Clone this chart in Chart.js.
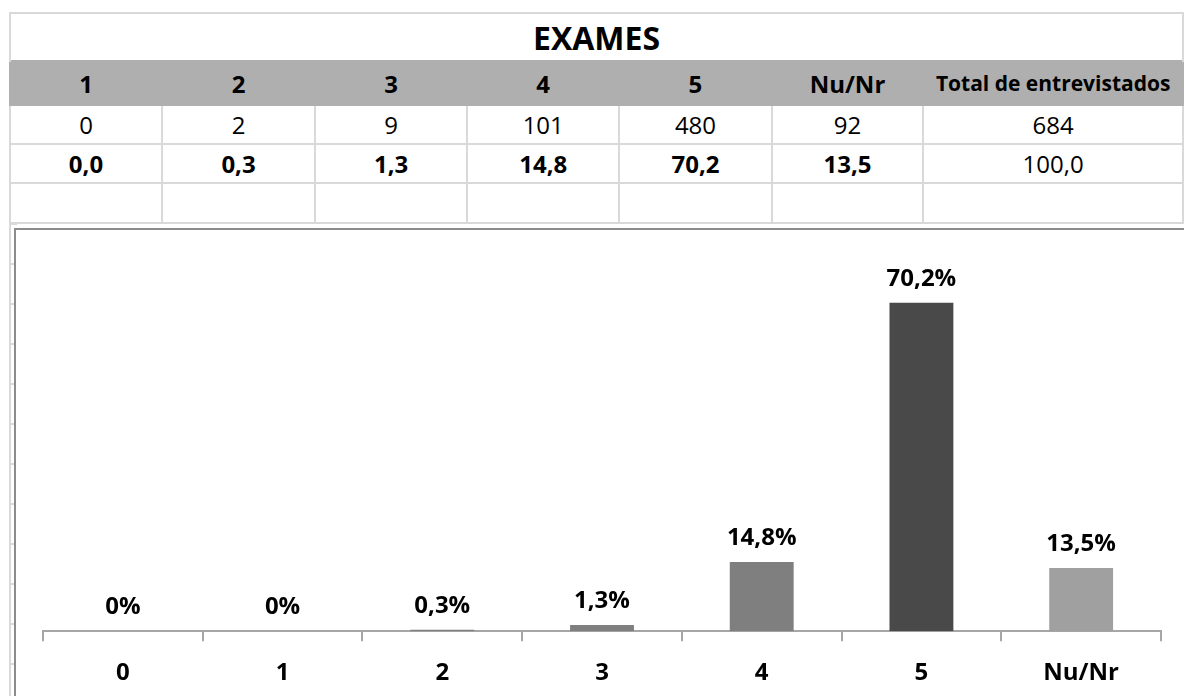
<!DOCTYPE html>
<html>
<head>
<meta charset="utf-8">
<script src="https://cdn.jsdelivr.net/npm/chart.js@4.4.1/dist/chart.umd.min.js"></script>
<style>
  html, body { margin: 0; padding: 0; background: #fff; }
  body { width: 1184px; height: 696px; overflow: hidden; position: relative; font-family: 'Open Sans', sans-serif; }
  #sheet { position: absolute; left: 9px; top: 12px; border-collapse: collapse; table-layout: fixed; }
  #sheet td { border: 2px solid #d9d9d9; padding: 0; text-align: center; color: #000; font-size: 24px; white-space: nowrap; overflow: hidden; }
  #sheet tr.title td { height: 46px; font-weight: bold; font-size: 32px; border-bottom: none; }
  #sheet tr.head td { height: 42px; background: #afafaf; border-color: #afafaf; font-weight: bold; }
  #sheet tr.head td.total { font-size: 21px; }
  #sheet tr.counts td { height: 37px; }
  #sheet tr.pcts td { height: 37px; font-weight: bold; }
  #sheet tr.pcts td.total { font-weight: normal; }
  #sheet tr.blank td { height: 38px; }
  #rowstubs { position: absolute; left: 9px; top: 223px; width: 6px; height: 480px; border-left: 2px solid #d9d9d9;
    background: repeating-linear-gradient(to bottom, #d9d9d9 0px, #d9d9d9 2px, transparent 2px, transparent 40px); }
  #chartBox { position: absolute; left: 14px; top: 228px; width: 1190px; height: 480px; border: 2px solid #8c8c8c; background: #fff; }
</style>
</head>
<body>
<table id="sheet"></table>
<div id="rowstubs"></div>
<div id="chartBox"><canvas id="mainChart" width="1190" height="480"></canvas></div>
<script>
const categories = ['0', '1', '2', '3', '4', '5', 'Nu/Nr'];
const percentages = [0, 0, 0.3, 1.3, 14.8, 70.2, 13.5];
const barColors = ['#7f7f7f', '#7f7f7f', '#7f7f7f', '#7f7f7f', '#7f7f7f', '#494949', '#a0a0a0'];

const tableTitle = 'EXAMES';
const tableHeaders = ['1', '2', '3', '4', '5', 'Nu/Nr', 'Total de entrevistados'];
const tableCounts = ['0', '2', '9', '101', '480', '92', '684'];
const tablePercents = ['0,0', '0,3', '1,3', '14,8', '70,2', '13,5', '100,0'];

document.addEventListener('DOMContentLoaded', function () {
  // spreadsheet part above the chart
  const colWidths = [154, 155, 154, 154, 154, 153, 260];
  const sheet = document.getElementById('sheet');
  let html = '<colgroup>' + colWidths.map((w) => `<col style="width:${w}px">`).join('') + '</colgroup>';
  html += `<tr class="title"><td colspan="7">${tableTitle}</td></tr>`;
  const row = (cls, vals) => `<tr class="${cls}">` + vals.map((v, i) =>
    `<td${i === vals.length - 1 ? ' class="total"' : ''}>${v}</td>`).join('') + '</tr>';
  html += row('head', tableHeaders);
  html += row('counts', tableCounts);
  html += row('pcts', tablePercents);
  html += row('blank', tableHeaders.map(() => ''));
  sheet.innerHTML = html;

  const fmt = (v) => (v === 0 ? '0%' : v.toFixed(1).replace('.', ',') + '%');

  const valueLabels = {
    id: 'valueLabels',
    afterDatasetsDraw(chart) {
      const c = chart.ctx;
      const meta = chart.getDatasetMeta(0);
      c.save();
      c.font = 'bold 24px "Open Sans"';
      c.fillStyle = '#000';
      c.textAlign = 'center';
      c.textBaseline = 'alphabetic';
      meta.data.forEach((bar, i) => {
        c.fillText(fmt(percentages[i]), bar.x, bar.y - 17);
      });
      c.restore();
    },
  };

  new Chart(document.getElementById('mainChart'), {
    type: 'bar',
    data: {
      labels: categories,
      datasets: [{
        data: percentages,
        backgroundColor: barColors,
        barPercentage: 0.4,
        categoryPercentage: 1,
      }],
    },
    options: {
      responsive: false,
      animation: false,
      layout: { padding: { left: 27, right: 45, top: 27, bottom: 4 } },
      plugins: { legend: { display: false }, tooltip: { enabled: false } },
      scales: {
        x: {
          grid: { drawOnChartArea: false, drawTicks: true, tickLength: 10, color: '#a6a6a6', lineWidth: 2 },
          border: { color: '#a6a6a6', width: 2 },
          ticks: { color: '#000', font: { family: 'Open Sans', weight: 'bold', size: 24 }, padding: 18 },
        },
        y: { display: false, min: 0, max: 80 },
      },
    },
    plugins: [valueLabels],
  });
});
</script>
</body>
</html>
